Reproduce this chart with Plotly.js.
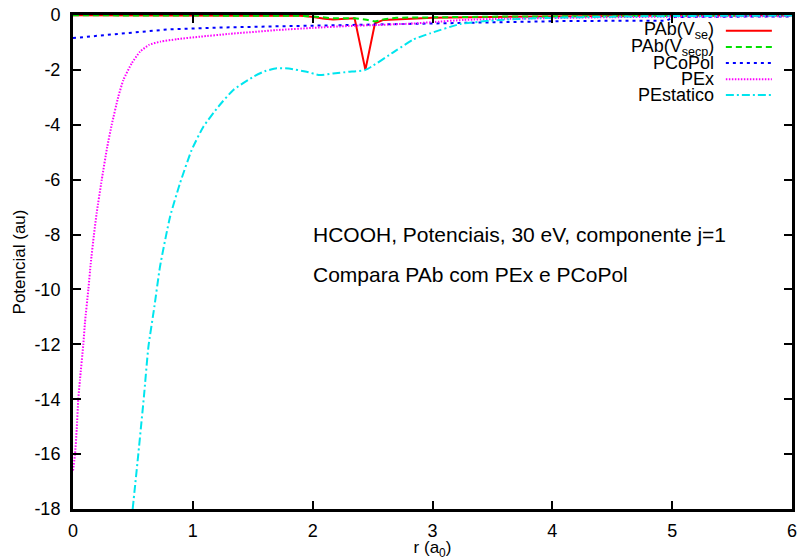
<!DOCTYPE html>
<html>
<head>
<meta charset="utf-8">
<script src="https://cdn.plot.ly/plotly-3.0.1.min.js"></script>
<style>
  html, body { margin: 0; padding: 0; background: #fff; }
  #plot { width: 800px; height: 560px; }
</style>
</head>
<body>
<div id="plot"></div>
<script>
// HCOOH potentials at 30 eV, component j=1

// PAb(V_se)
const rAbSe = [0, 0.5, 1.0, 1.5, 1.9, 1.99, 2.1, 2.17, 2.3, 2.35, 2.44, 2.52, 2.59, 2.8, 3.0, 3.5, 4.0, 4.5, 5.0, 6.0];
const vAbSe = [-0.01, -0.01, -0.01, -0.02, -0.03, -0.06, -0.14, -0.16, -0.13, -0.12, -2.0, -0.3, -0.18, -0.14, -0.1, -0.07, -0.05, -0.03, -0.02, -0.01];

// PAb(V_secp)
const rAbSecp = [0, 1.0, 1.9, 2.0, 2.17, 2.35, 2.45, 2.52, 2.6, 2.7, 3.0, 3.5, 4.0, 5.0, 6.0];
const vAbSecp = [-0.01, -0.01, -0.03, -0.05, -0.12, -0.12, -0.17, -0.24, -0.15, -0.1, -0.08, -0.06, -0.05, -0.03, -0.02];

// PCoPol
const rCoPol = [0, 0.2, 0.45, 0.81, 1.2, 1.73, 2.3, 2.8, 3.3, 4.1, 4.6, 4.95, 5.02, 5.5, 6.0];
const vCoPol = [-0.84, -0.75, -0.66, -0.52, -0.46, -0.41, -0.36, -0.31, -0.27, -0.22, -0.21, -0.21, -0.07, -0.06, -0.05];

// PEx
const rEx = [0, 0.017, 0.031, 0.044, 0.058, 0.086, 0.10, 0.128, 0.148, 0.175, 0.198, 0.24, 0.286, 0.323, 0.378, 0.42, 0.49, 0.559, 0.634, 0.73, 0.87, 1.06, 1.3, 1.7, 2.0, 2.3, 2.56, 2.84, 3.0, 3.26, 3.6, 4.0, 4.5, 5.0, 5.5, 6.0];
const vEx = [-16.6, -16.0, -15.1, -14.0, -13.3, -12.0, -11.2, -10.0, -9.05, -8.0, -7.2, -6.0, -4.8, -4.0, -2.98, -2.37, -1.76, -1.34, -1.09, -0.97, -0.88, -0.79, -0.69, -0.55, -0.47, -0.40, -0.36, -0.31, -0.26, -0.18, -0.14, -0.11, -0.08, -0.06, -0.05, -0.04];

// PEstatico
const rEst = [0.498, 0.545, 0.592, 0.629, 0.679, 0.726, 0.81, 0.893, 0.99, 1.088, 1.213, 1.338, 1.505, 1.60, 1.70, 1.80, 1.95, 2.06, 2.17, 2.3, 2.44, 2.7, 2.84, 2.98, 3.23, 3.56, 4.0, 4.5, 5.0, 6.0];
const vEst = [-18.0, -16.0, -13.9, -12.1, -10.63, -9.17, -7.35, -6.13, -4.92, -4.07, -3.34, -2.73, -2.25, -2.05, -1.94, -1.95, -2.07, -2.19, -2.13, -2.07, -2.0, -1.28, -0.89, -0.67, -0.33, -0.18, -0.1, -0.06, -0.04, -0.02];

const seriesNames = ['PAb(V<sub>se</sub>)', 'PAb(V<sub>secp</sub>)', 'PCoPol', 'PEx', 'PEstatico'];
const seriesColors = ['#ff0000', '#00e000', '#0000ff', '#ff00ff', '#00e5ee'];
const seriesDash = ['solid', '6px,4px', '3px,4px', '1.5px,1.5px', '8px,3px,2px,3px'];
const seriesX = [rAbSe, rAbSecp, rCoPol, rEx, rEst];
const seriesY = [vAbSe, vAbSecp, vCoPol, vEx, vEst];
const seriesShape = ['linear', 'linear', 'linear', 'spline', 'spline'];

const xTickVals = [0, 1, 2, 3, 4, 5, 6];
const yTickVals = [0, -2, -4, -6, -8, -10, -12, -14, -16, -18];
const yTickText = ['0', '-2', '-4', '-6', '-8', '-10', '-12', '-14', '-16', '-18'];

const noteLines = ['HCOOH, Potenciais, 30 eV, componente j=1', 'Compara PAb com PEx e PCoPol'];
const noteY = [-8.0, -9.45];

const FONT = 'Liberation Sans, Arial, Helvetica, sans-serif';

const traces = seriesX.map((xs, i) => ({
  x: xs,
  y: seriesY[i],
  type: 'scatter',
  mode: 'lines',
  name: seriesNames[i],
  line: { color: seriesColors[i], width: 2, dash: seriesDash[i], shape: seriesShape[i], smoothing: 0.5 },
  showlegend: false,
  hoverinfo: 'skip'
}));

// key entries: right-aligned label followed by a line sample
const keyRowY = [0.968, 0.935, 0.903, 0.870, 0.838];
const annotations = [];
const shapes = [];
seriesNames.forEach((nm, i) => {
  annotations.push({
    xref: 'paper', yref: 'paper', x: 0.894, y: keyRowY[i],
    xanchor: 'right', yanchor: 'middle', text: nm, showarrow: false,
    font: { family: FONT, size: 18, color: '#000' }
  });
  shapes.push({
    type: 'line', xref: 'paper', yref: 'paper',
    x0: 0.908, x1: 0.972, y0: keyRowY[i], y1: keyRowY[i],
    line: { color: seriesColors[i], width: 2, dash: seriesDash[i] }
  });
});
noteLines.forEach((t, i) => {
  annotations.push({
    xref: 'x', yref: 'y', x: 1.99, y: noteY[i], xanchor: 'left', yanchor: 'middle',
    text: t, showarrow: false, font: { family: FONT, size: 21, color: '#000' }
  });
});

const axisCommon = {
  showline: true, linecolor: '#000', linewidth: 3, mirror: 'ticks',
  ticks: 'inside', ticklen: 8, tickwidth: 2, tickcolor: '#000',
  showgrid: false, zeroline: false,
  tickfont: { family: FONT, size: 18, color: '#000' }
};

const layout = {
  width: 800, height: 560,
  margin: { l: 73, r: 8, t: 15, b: 51 },
  paper_bgcolor: '#fff', plot_bgcolor: '#fff',
  font: { family: FONT, color: '#000' },
  xaxis: Object.assign({}, axisCommon, {
    range: [0, 6], tickvals: xTickVals, ticklabelstandoff: 3,
    title: { text: 'r (a<sub>0</sub>)', font: { family: FONT, size: 17 }, standoff: 4 }
  }),
  yaxis: Object.assign({}, axisCommon, {
    range: [-18, 0], tickvals: yTickVals, ticktext: yTickText, ticklabelstandoff: 6,
    title: { text: 'Potencial (au)', font: { family: FONT, size: 17 }, standoff: 5 }
  }),
  annotations: annotations,
  shapes: shapes,
  showlegend: false
};

Plotly.newPlot('plot', traces, layout, { staticPlot: true, displayModeBar: false });
</script>
</body>
</html>
